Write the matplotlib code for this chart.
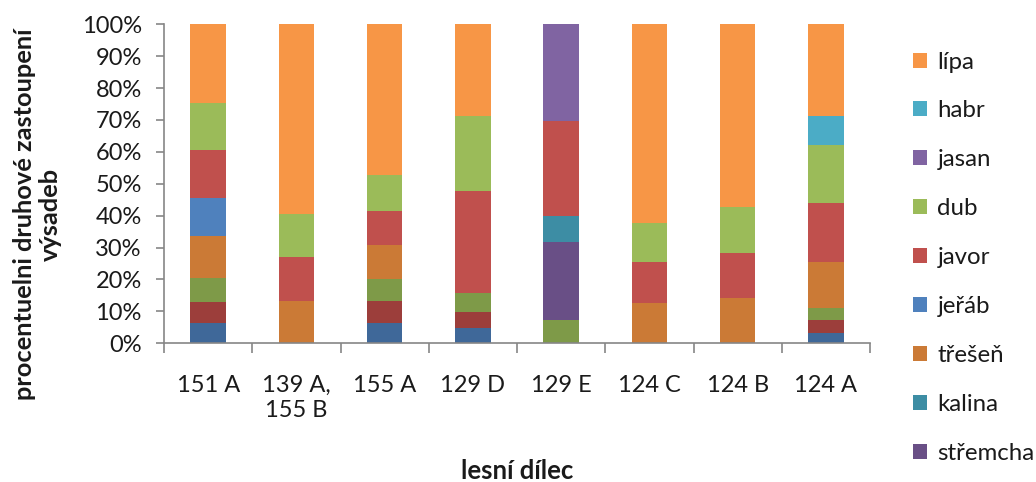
import numpy as np
import matplotlib
matplotlib.use("Agg")
import matplotlib.pyplot as plt
from matplotlib.patches import Patch
from matplotlib.ticker import FixedLocator, PercentFormatter

plt.rcParams['font.family'] = ['Lato', 'DejaVu Sans']

# forest stands (lesní dílec)
categories = ["151 A", "139 A,\n155 B", "155 A", "129 D", "129 E", "124 C", "124 B", "124 A"]

# share of each species in plantings, %, stacked bottom -> top
druh_a   = [6.5, 0.0, 6.5, 4.9, 0.0, 0.0, 0.0, 3.2]
druh_b   = [6.5, 0.0, 6.9, 4.8, 0.0, 0.0, 0.0, 4.1]
druh_c   = [7.6, 0.0, 6.8, 6.0, 7.3, 0.0, 0.0, 3.7]
stremcha = [0.0, 0.0, 0.0, 0.0, 24.6, 0.0, 0.0, 0.0]
kalina   = [0.0, 0.0, 0.0, 0.0, 8.1, 0.0, 0.0, 0.0]
tresen   = [12.9, 13.3, 10.5, 0.0, 0.0, 12.5, 14.2, 14.5]
jerab    = [12.2, 0.0, 0.0, 0.0, 0.0, 0.0, 0.0, 0.0]
javor    = [14.8, 13.8, 10.9, 31.9, 29.8, 13.0, 14.0, 18.5]
dub      = [14.9, 13.3, 11.0, 23.8, 0.0, 12.1, 14.5, 18.1]
jasan    = [0.0, 0.0, 0.0, 0.0, 30.2, 0.0, 0.0, 0.0]
habr     = [0.0, 0.0, 0.0, 0.0, 0.0, 0.0, 0.0, 9.0]
lipa     = [24.6, 59.6, 47.4, 28.6, 0.0, 62.4, 57.3, 28.9]

series = [
    (None, druh_a, "#3F6899"),
    (None, druh_b, "#9C3E3B"),
    (None, druh_c, "#7E9A48"),
    ("střemcha", stremcha, "#694F86"),
    ("kalina", kalina, "#3D8DA4"),
    ("třešeň", tresen, "#CB7A36"),
    ("jeřáb", jerab, "#4F81BD"),
    ("javor", javor, "#C0504D"),
    ("dub", dub, "#9BBB59"),
    ("jasan", jasan, "#8064A2"),
    ("habr", habr, "#4BACC6"),
    ("lípa", lipa, "#F79646"),
]

fig = plt.figure(figsize=(10.36, 4.82), dpi=100)
ax = fig.add_axes([0.1583, 0.2878, 0.8398 - 0.1583, 0.9496 - 0.2878])

x = np.arange(len(categories))
totals = np.sum([np.array(v) for _, v, _ in series], axis=0)
bottom = np.zeros(len(categories))
for name, vals, color in series:
    frac = np.array(vals) / totals
    ax.bar(x, frac, width=0.4, bottom=bottom, color=color, linewidth=0)
    bottom += frac

ax.set_xlim(-0.5, len(categories) - 0.5)
ax.set_ylim(0, 1)

axis_col = "#868686"
for s in ("top", "right"):
    ax.spines[s].set_visible(False)
for s in ("left", "bottom"):
    ax.spines[s].set_color(axis_col)
    ax.spines[s].set_linewidth(1.2)

ax.yaxis.set_major_locator(FixedLocator(np.linspace(0, 1, 11)))
ax.yaxis.set_major_formatter(PercentFormatter(1.0, decimals=0))
ax.tick_params(axis="y", direction="out", length=6, width=1.2, color=axis_col,
               labelsize=17, pad=10, labelcolor="#1a1a1a")

ax.set_xticks(x)
ax.set_xticklabels(categories, linespacing=1.25)
ax.tick_params(axis="x", which="major", length=0, labelsize=17, pad=23,
               labelcolor="#1a1a1a")
ax.xaxis.set_minor_locator(FixedLocator(np.arange(-0.5, len(categories), 1.0)))
ax.tick_params(axis="x", which="minor", direction="out", length=7, width=1.2,
               color=axis_col)
for lbl in ax.get_xticklabels():
    lbl.set_verticalalignment("top")

fig.text(0.036, 0.555, "procentuelni druhové zastoupení\nvýsadeb", rotation=90,
         ha="center", va="center", fontsize=18.3, fontweight="bold",
         linespacing=1.12, multialignment="center", color="#1a1a1a")
fig.text(0.499, 0.023, "lesní dílec", ha="center", va="center",
         fontsize=18.5, fontweight="bold", color="#1a1a1a")

handles = [Patch(facecolor=c, edgecolor="none", label=n)
           for n, _, c in reversed(series) if n is not None]
fig.legend(handles=handles, loc="upper left", bbox_to_anchor=(0.881, 0.893),
           frameon=False, fontsize=17.3, labelspacing=1.16, handlelength=0.58,
           handleheight=0.58, handletextpad=0.45, borderpad=0, borderaxespad=0,
           labelcolor="#1a1a1a")

fig.savefig("out.png", dpi=100)
